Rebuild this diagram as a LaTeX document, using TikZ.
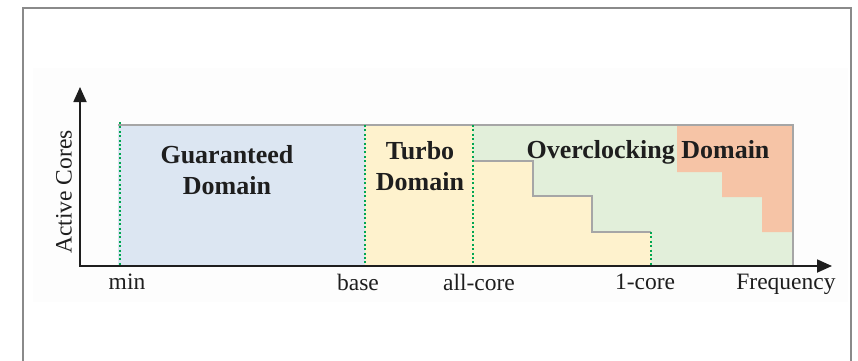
\documentclass[tikz,border=0pt]{standalone}
\usepackage{fontspec}
\setmainfont{Liberation Serif}
\usetikzlibrary{arrows.meta}
\definecolor{framegray}{HTML}{8A8A8A}
\definecolor{guar}{HTML}{DCE6F2}
\definecolor{turbofill}{HTML}{FEF2CD}
\definecolor{ocfill}{HTML}{E2EFDA}
\definecolor{hotfill}{HTML}{F6C4A6}
\definecolor{edgegray}{HTML}{A6A6A6}
\definecolor{markgreen}{HTML}{00A651}
\definecolor{ink}{HTML}{1E1E1E}
\tikzset{
  axisarrow/.style={line width=1.8pt, ink, -{Triangle[length=15pt,width=13pt]}},
  outlineedge/.style={line width=1.6pt, edgegray},
  freqmark/.style={line width=2pt, markgreen, dash pattern=on 2pt off 2.4pt},
  ticklabel/.style={font=\fontsize{23.5}{25}\selectfont, text=ink, inner sep=0pt},
  domainlabel/.style={font=\fontsize{26}{31}\selectfont\bfseries, text=ink, align=center, inner sep=0pt},
}
\begin{document}
\begin{tikzpicture}[x=1pt,y=-1pt]
  \useasboundingbox (0,0) rectangle (858,360);
  % outer frame (open at the bottom) and faint plot band
  \fill[white] (0,0) rectangle (858,360);
  \fill[black!0.8] (33,68) rectangle (848,302);
  \draw[framegray, line width=2.2pt] (23,362) -- (23,8) -- (851,8) -- (851,362);

  % domain areas
  \fill[guar]      (118,125) rectangle (365,266);
  \fill[turbofill] (365,125) rectangle (473,266);
  \fill[ocfill]    (473,125) rectangle (793,266);
  \fill[turbofill] (473,161) -- (533,161) -- (533,196) -- (592,196) -- (592,232)
                   -- (651,232) -- (651,266) -- (473,266) -- cycle;
  \fill[hotfill]   (677,125) -- (793,125) -- (793,232) -- (762,232) -- (762,197)
                   -- (722,197) -- (722,172) -- (677,172) -- cycle;

  % outlines
  \draw[outlineedge] (118,125) -- (793,125) -- (793,266);
  \draw[outlineedge] (473,161) -- (533,161) -- (533,196) -- (592,196) -- (592,232) -- (651,232);

  % frequency markers
  \draw[freqmark] (120,122) -- (120,266);
  \draw[freqmark] (365,125) -- (365,266);
  \draw[freqmark] (473,125) -- (473,266);
  \draw[freqmark] (651,232) -- (651,266);

  % axes
  \coordinate (origin) at (80,266);
  \coordinate (ytip) at (80,87);
  \coordinate (xtip) at (832,266);
  \draw[axisarrow] (origin) -- (ytip);
  \draw[axisarrow] ([xshift=-0.9pt]origin) -- (xtip);

  % labels
  \node[ticklabel, rotate=90] (ylab) at (64,192) {Active Cores};
  \node[ticklabel] (fmin)  at (127,282) {min};
  \node[ticklabel] (fbase) at (358,282) {base};
  \node[ticklabel] (fall)  at (479,282) {all-core};
  \node[ticklabel] (fone)  at (645,282) {1-core};
  \node[ticklabel] (xlab)  at (786,284) {Frequency};

  \node[domainlabel] (gd) at (227,170) {Guaranteed\\Domain};
  \node[domainlabel] (td) at (420,166) {Turbo\\Domain};
  \node[domainlabel] (od) at (648,152) {Overclocking Domain};
\end{tikzpicture}
\end{document}
